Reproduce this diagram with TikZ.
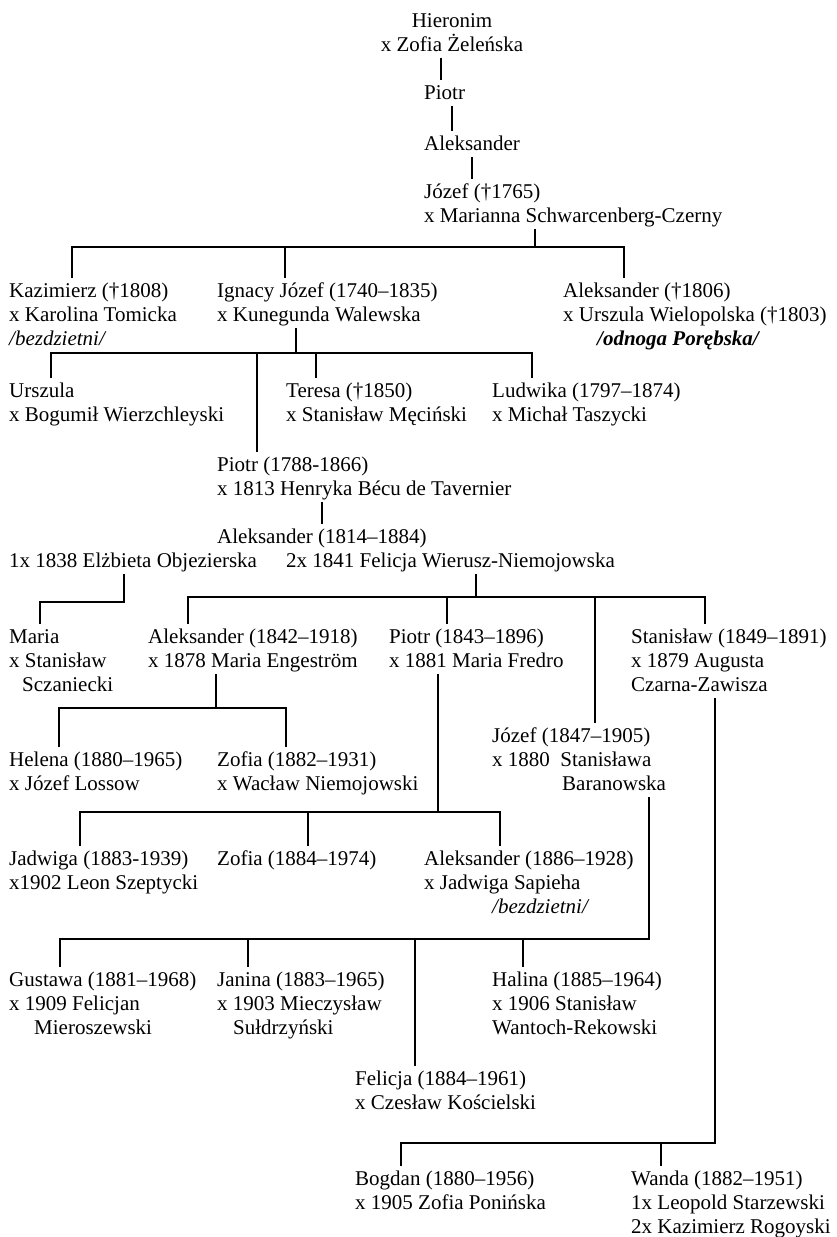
\documentclass[tikz,border=0pt]{standalone}
\usepackage{fontspec}
\setmainfont{Liberation Serif}
\usetikzlibrary{calc}
\newcommand{\strutg}{\rule{0pt}{19pt}}
\newcommand{\strutd}{\rule[-7pt]{0pt}{7pt}}

\begin{document}
\begin{tikzpicture}[
  x=1pt, y=-1pt,
  osoba/.style={anchor=north west, yshift=19pt, inner sep=0pt, align=left,
    font=\fontsize{21}{24}\selectfont},
  linia/.style={draw, line width=1.2pt}
  ]
  \useasboundingbox (0,0) rectangle (836,1237);

  \node[osoba, anchor=north, align=center] (hier) at (452,27) {\strutg Hieronim\\x Zofia Żeleńska\strutd};
  \node[osoba] (piotrA) at (424,99) {\strutg Piotr\strutd};
  \node[osoba] (aleA) at (424,150) {\strutg Aleksander\strutd};
  \node[osoba] (jozA) at (424,198) {\strutg Józef (†1765)\\x Marianna Schwarcenberg-Czerny\strutd};

  \node[osoba] (kaz) at (9,297) {\strutg Kazimierz (†1808)\\x Karolina Tomicka\\\textit{/bezdzietni/}\strutd};
  \node[osoba] (ign) at (217,297) {\strutg Ignacy Józef (1740–1835)\\x Kunegunda Walewska\strutd};
  \node[osoba] (aleB) at (563,297) {\strutg Aleksander (†1806)\\x Urszula Wielopolska (†1803)\\\hspace*{34pt}\textbf{\textit{/odnoga Porębska/}}\strutd};

  \node[osoba] (urs) at (9,397) {\strutg Urszula\\x Bogumił Wierzchleyski\strutd};
  \node[osoba] (ter) at (286,397) {\strutg Teresa (†1850)\\x Stanisław Męciński\strutd};
  \node[osoba] (lud) at (492,397) {\strutg Ludwika (1797–1874)\\x Michał Taszycki\strutd};
  \node[osoba] (piotrB) at (217,471) {\strutg Piotr (1788-1866)\\x 1813 Henryka Bécu de Tavernier\strutd};
  \node[osoba] (aleC) at (217,543) {\strutg Aleksander (1814–1884)\strutd};
  \node[osoba] (zonaA) at (9,567) {\strutg 1x 1838 Elżbieta Objezierska\strutd};
  \node[osoba] (zonaB) at (286,567) {\strutg 2x 1841 Felicja Wierusz-Niemojowska\strutd};

  \node[osoba] (mar) at (9,643) {\strutg Maria\\x Stanisław\\\hspace*{13pt}Sczaniecki\strutd};
  \node[osoba] (aleD) at (148,643) {\strutg Aleksander (1842–1918)\\x 1878 Maria Engeström\strutd};
  \node[osoba] (piotrC) at (389,643) {\strutg Piotr (1843–1896)\\x 1881 Maria Fredro\strutd};
  \node[osoba] (sta) at (631,643) {\strutg Stanisław (1849–1891)\\x 1879 Augusta\\Czarna-Zawisza\strutd};
  \node[osoba] (jozB) at (492,742) {\strutg Józef (1847–1905)\\x 1880\ \ Stanisława\\\hspace*{70pt}Baranowska\strutd};
  \node[osoba] (hel) at (9,766) {\strutg Helena (1880–1965)\\x Józef Lossow\strutd};
  \node[osoba] (zofA) at (217,766) {\strutg Zofia (1882–1931)\\x Wacław Niemojowski\strutd};

  \node[osoba] (jad) at (9,865) {\strutg Jadwiga (1883-1939)\\x1902 Leon Szeptycki\strutd};
  \node[osoba] (zofB) at (217,865) {\strutg Zofia (1884–1974)\strutd};
  \node[osoba] (aleE) at (424,865) {\strutg Aleksander (1886–1928)\\x Jadwiga Sapieha\\\hspace*{68pt}\textit{/bezdzietni/}\strutd};

  \node[osoba] (gus) at (9,986) {\strutg Gustawa (1881–1968)\\x 1909 Felicjan\\\hspace*{25pt}Mieroszewski\strutd};
  \node[osoba] (jan) at (217,986) {\strutg Janina (1883–1965)\\x 1903 Mieczysław\\\hspace*{16pt}Sułdrzyński\strutd};
  \node[osoba] (hal) at (492,986) {\strutg Halina (1885–1964)\\x 1906 Stanisław\\Wantoch-Rekowski\strutd};
  \node[osoba] (fel) at (355,1085) {\strutg Felicja (1884–1961)\\x Czesław Kościelski\strutd};
  \node[osoba] (bog) at (355,1185) {\strutg Bogdan (1880–1956)\\x 1905 Zofia Ponińska\strutd};
  \node[osoba] (wan) at (631,1185) {\strutg Wanda (1882–1951)\\1x Leopold Starzewski\\2x Kazimierz Rogoyski\strutd};

  \coordinate (l0) at (441,58);
  \coordinate (l1) at (452,108);
  \coordinate (l2) at (472,157);
  \coordinate (b1) at (535,247);
  \coordinate (b1l) at (72,247);
  \coordinate (b1m) at (285,247);
  \coordinate (b1r) at (624,247);
  \coordinate (b2) at (296,353);
  \coordinate (b2l) at (51,353);
  \coordinate (b2a) at (257,353);
  \coordinate (b2b) at (316,353);
  \coordinate (b2r) at (532,353);
  \coordinate (l5) at (322,510);
  \coordinate (m1) at (124,602);
  \coordinate (m2) at (40,602);
  \coordinate (b3) at (476,597);
  \coordinate (b3l) at (188,597);
  \coordinate (b3a) at (447,597);
  \coordinate (b3b) at (595,597);
  \coordinate (b3r) at (705,597);
  \coordinate (b4) at (216,708);
  \coordinate (b4l) at (59,708);
  \coordinate (b4r) at (286,708);
  \coordinate (b5) at (438,812);
  \coordinate (b5l) at (80,812);
  \coordinate (b5m) at (308,812);
  \coordinate (b5r) at (500,812);
  \coordinate (b6) at (649,939);
  \coordinate (b6l) at (60,939);
  \coordinate (b6a) at (248,939);
  \coordinate (b6b) at (415,939);
  \coordinate (b6c) at (523,939);
  \coordinate (b7) at (715,1143);
  \coordinate (b7l) at (401,1143);
  \coordinate (b7a) at (661,1143);

  \draw[linia] (hier.south -| l0) -- (piotrA.north -| l0);
  \draw[linia] (piotrA.south -| l1) -- (aleA.north -| l1);
  \draw[linia] (aleA.south -| l2) -- (jozA.north -| l2);

  \draw[linia] (jozA.south -| b1) -- (b1);
  \draw[linia] (kaz.north -| b1l) -- (b1l) -- (b1r) -- (aleB.north -| b1r);
  \draw[linia] (b1m) -- (ign.north -| b1m);

  \draw[linia] (ign.south -| b2) -- (b2);
  \draw[linia] (urs.north -| b2l) -- (b2l) -- (b2r) -- (lud.north -| b2r);
  \draw[linia] (b2a) -- (piotrB.north -| b2a);
  \draw[linia] (b2b) -- (ter.north -| b2b);

  \draw[linia] (piotrB.south -| l5) -- (aleC.north -| l5);
  \draw[linia] (zonaA.south -| m1) -- (m1) -- (m2) -- (mar.north -| m2);

  \draw[linia] (zonaB.south -| b3) -- (b3);
  \draw[linia] (aleD.north -| b3l) -- (b3l) -- (b3r) -- (sta.north -| b3r);
  \draw[linia] (b3a) -- (piotrC.north -| b3a);
  \draw[linia] (b3b) -- (jozB.north -| b3b);

  \draw[linia] (aleD.south -| b4) -- (b4);
  \draw[linia] (hel.north -| b4l) -- (b4l) -- (b4r) -- (zofA.north -| b4r);

  \draw[linia] (piotrC.south -| b5) -- (b5);
  \draw[linia] (jad.north -| b5l) -- (b5l) -- (b5r) -- (aleE.north -| b5r);
  \draw[linia] (b5m) -- (zofB.north -| b5m);

  \draw[linia] (jozB.south -| b6) -- (b6) -- (b6l) -- (gus.north -| b6l);
  \draw[linia] (b6a) -- (jan.north -| b6a);
  \draw[linia] (b6b) -- (fel.north -| b6b);
  \draw[linia] (b6c) -- (hal.north -| b6c);

  \draw[linia] (sta.south -| b7) -- (b7) -- (b7l) -- (bog.north -| b7l);
  \draw[linia] (b7a) -- (wan.north -| b7a);
\end{tikzpicture}
\end{document}
